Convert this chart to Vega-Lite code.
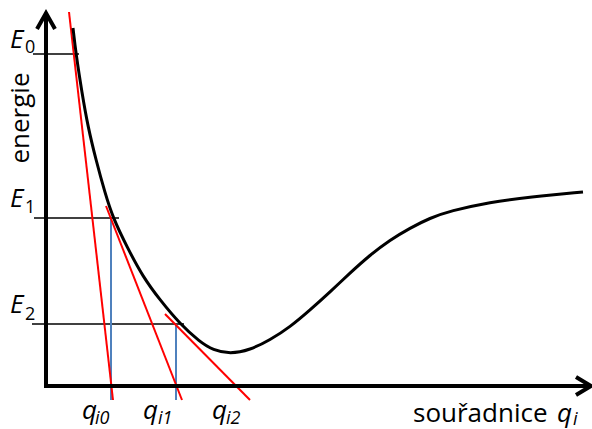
{
  "$schema": "https://vega.github.io/schema/vega-lite/v6.json",
  "width": 592,
  "height": 429,
  "autosize": {"type": "none"},
  "padding": 0,
  "background": "white",
  "config": {"view": {"stroke": null}},
  "datasets": {
    "curve": [
      {"q": 27, "e": 358}, {"q": 30, "e": 332}, {"q": 36, "e": 293}, {"q": 42, "e": 259},
      {"q": 50, "e": 226}, {"q": 59, "e": 193}, {"q": 67, "e": 168}, {"q": 81, "e": 139},
      {"q": 97, "e": 109}, {"q": 114, "e": 86}, {"q": 134, "e": 62}, {"q": 154, "e": 44},
      {"q": 167, "e": 36}, {"q": 184, "e": 32}, {"q": 204, "e": 36}, {"q": 224, "e": 46},
      {"q": 244, "e": 59}, {"q": 264, "e": 76}, {"q": 284, "e": 94}, {"q": 304, "e": 113},
      {"q": 324, "e": 131}, {"q": 344, "e": 146}, {"q": 364, "e": 158}, {"q": 384, "e": 168},
      {"q": 404, "e": 175}, {"q": 444, "e": 184}, {"q": 484, "e": 189}, {"q": 537, "e": 194}
    ],
    "tangents": [
      {"q": 23, "e": 374, "q2": 67, "e2": -14},
      {"q": 60, "e": 180, "q2": 136, "e2": -14},
      {"q": 119, "e": 72, "q2": 204, "e2": -14}
    ],
    "drops": [
      {"q": 65, "e": 168, "q2": 65, "e2": -14},
      {"q": 130, "e": 62, "q2": 130, "e2": -14}
    ],
    "levels": [
      {"q": -13, "e": 332, "q2": 33, "e2": 332},
      {"q": -12, "e": 168, "q2": 73, "e2": 168},
      {"q": -14, "e": 62, "q2": 138, "e2": 62}
    ],
    "axes": [
      {"q": 0, "e": -2, "q2": 0, "e2": 372},
      {"q": -2, "e": 0, "q2": 543, "e2": 0}
    ],
    "arrows": [
      {"id": "y", "k": 1, "q": -9, "e": 357},
      {"id": "y", "k": 2, "q": 0, "e": 373},
      {"id": "y", "k": 3, "q": 9, "e": 357},
      {"id": "x", "k": 1, "q": 530, "e": 9},
      {"id": "x", "k": 2, "q": 545, "e": 0},
      {"id": "x", "k": 3, "q": 530, "e": -9}
    ],
    "bigItalic": [
      {"t": "E", "q": -36, "e": 338},
      {"t": "E", "q": -36, "e": 179},
      {"t": "E", "q": -36, "e": 73},
      {"t": "q", "q": 36, "e": -33},
      {"t": "q", "q": 97, "e": -33},
      {"t": "q", "q": 166, "e": -33},
      {"t": "q", "q": 511, "e": -36}
    ],
    "smallUpright": [
      {"t": "0", "q": -21, "e": 333},
      {"t": "1", "q": -21, "e": 173},
      {"t": "2", "q": -21, "e": 66}
    ],
    "smallItalic": [
      {"t": "i0", "q": 49, "e": -38},
      {"t": "i1", "q": 112, "e": -38},
      {"t": "i2", "q": 180, "e": -38},
      {"t": "i", "q": 527, "e": -39}
    ],
    "bigUpright": [
      {"t": "souřadnice", "q": 367, "e": -36}
    ],
    "rotated": [
      {"t": "energie", "q": -17, "e": 268}
    ]
  },
  "encoding": {
    "x": {"field": "q", "type": "quantitative", "scale": {"domain": [-46, 546], "nice": false, "zero": false}, "axis": null},
    "y": {"field": "e", "type": "quantitative", "scale": {"domain": [-43, 386], "nice": false, "zero": false}, "axis": null}
  },
  "layer": [
    {
      "data": {"name": "levels"},
      "mark": {"type": "rule", "color": "#000000", "strokeWidth": 1.5},
      "encoding": {"x2": {"field": "q2"}, "y2": {"field": "e2"}}
    },
    {
      "data": {"name": "drops"},
      "mark": {"type": "rule", "color": "#4F81BD", "strokeWidth": 2},
      "encoding": {"x2": {"field": "q2"}, "y2": {"field": "e2"}}
    },
    {
      "data": {"name": "tangents"},
      "mark": {"type": "rule", "color": "#FF0000", "strokeWidth": 2},
      "encoding": {"x2": {"field": "q2"}, "y2": {"field": "e2"}}
    },
    {
      "data": {"name": "curve"},
      "mark": {"type": "line", "color": "#000000", "strokeWidth": 3, "interpolate": "basis"},
      "encoding": {}
    },
    {
      "data": {"name": "axes"},
      "mark": {"type": "rule", "color": "#000000", "strokeWidth": 4},
      "encoding": {"x2": {"field": "q2"}, "y2": {"field": "e2"}}
    },
    {
      "data": {"name": "arrows"},
      "mark": {"type": "line", "color": "#000000", "strokeWidth": 4, "strokeJoin": "miter", "strokeCap": "butt"},
      "encoding": {"detail": {"field": "id"}, "order": {"field": "k"}}
    },
    {
      "data": {"name": "bigItalic"},
      "mark": {"type": "text", "font": "Open Sans", "fontSize": 26, "fontStyle": "italic", "align": "left", "baseline": "alphabetic", "color": "#000000"},
      "encoding": {"text": {"field": "t"}}
    },
    {
      "data": {"name": "smallUpright"},
      "mark": {"type": "text", "font": "Open Sans", "fontSize": 18, "align": "left", "baseline": "alphabetic", "color": "#000000"},
      "encoding": {"text": {"field": "t"}}
    },
    {
      "data": {"name": "smallItalic"},
      "mark": {"type": "text", "font": "Open Sans", "fontSize": 18, "fontStyle": "italic", "align": "left", "baseline": "alphabetic", "color": "#000000"},
      "encoding": {"text": {"field": "t"}}
    },
    {
      "data": {"name": "bigUpright"},
      "mark": {"type": "text", "font": "Open Sans", "fontSize": 26, "align": "left", "baseline": "alphabetic", "color": "#000000"},
      "encoding": {"text": {"field": "t"}}
    },
    {
      "data": {"name": "rotated"},
      "mark": {"type": "text", "font": "Open Sans", "fontSize": 26, "angle": 270, "align": "center", "baseline": "alphabetic", "color": "#000000"},
      "encoding": {"text": {"field": "t"}}
    }
  ]
}
